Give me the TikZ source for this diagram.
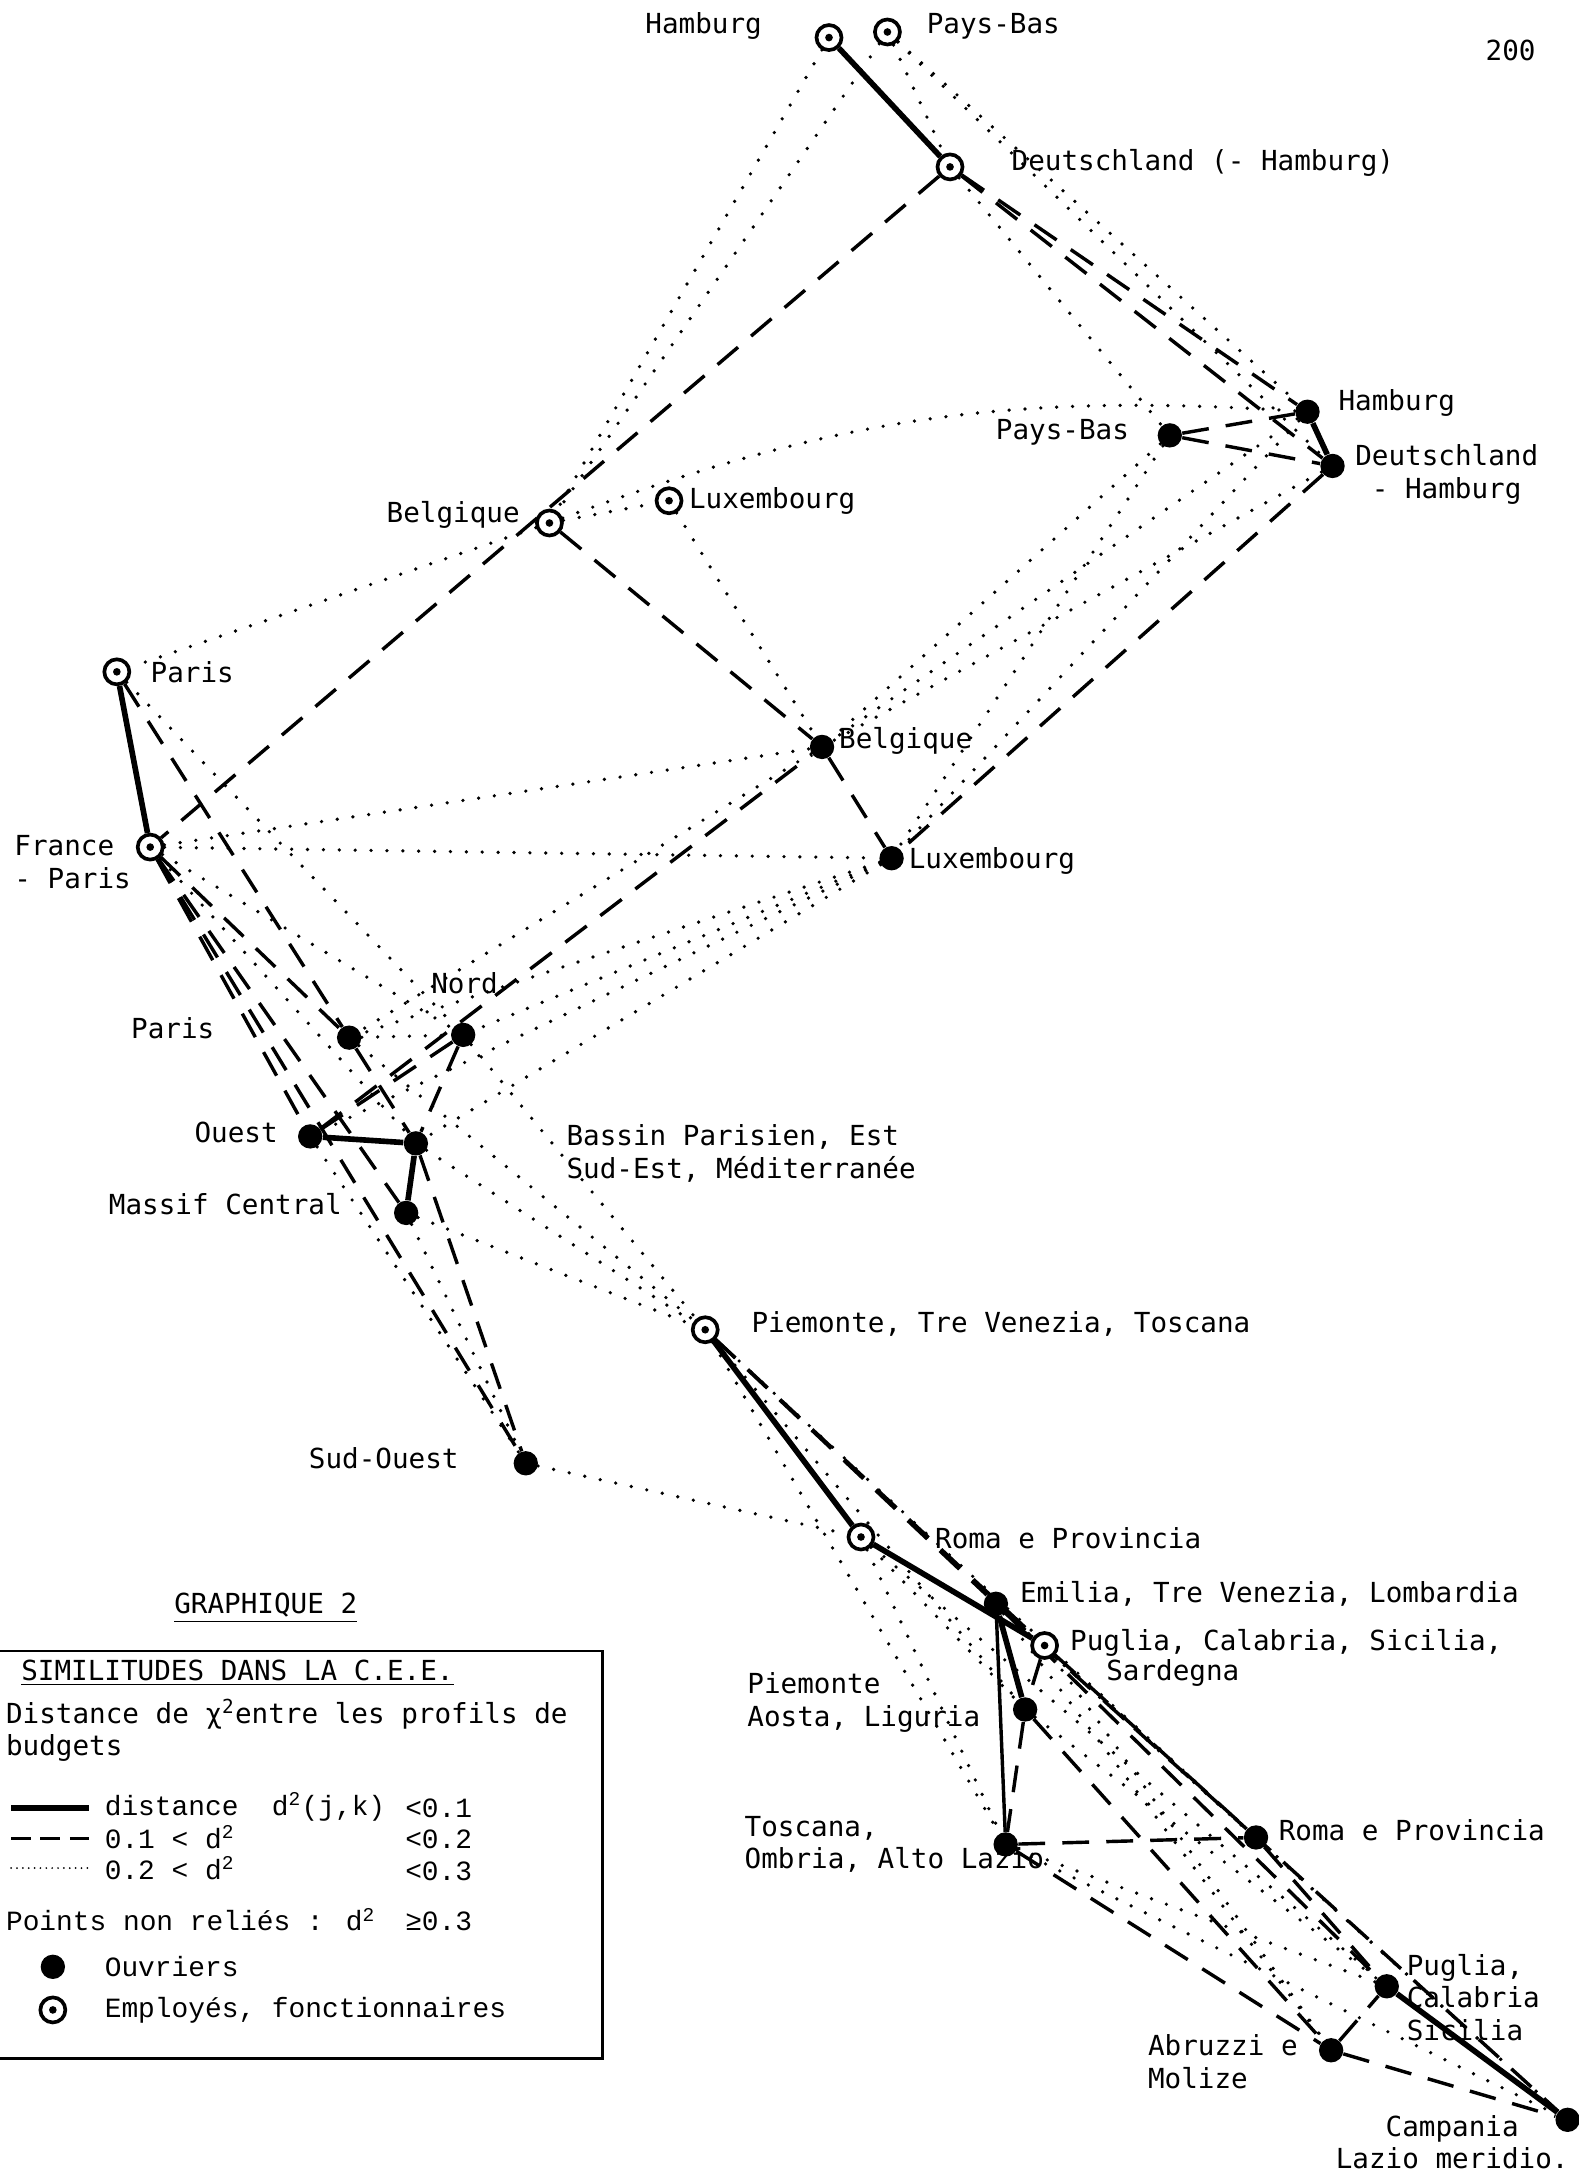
\documentclass[tikz,border=0pt]{standalone}
\usepackage{fontspec}
\newfontfamily\etiq{DejaVu Sans Mono}
\newfontfamily\machine{Liberation Mono}
\usetikzlibrary{backgrounds}

\tikzset{
  ouv/.style={circle,fill=black,inner sep=0pt,minimum size=0.35cm},
  emp/.style={circle,draw=black,line width=1.5pt,fill=white,inner sep=0pt,minimum size=0.36cm,
    path picture={\fill[black] (path picture bounding box.center) circle (0.055cm);}},
  lab/.style={inner sep=0pt,align=left,font=\etiq\fontsize{11.3}{13.4}\selectfont},
  leg/.style={inner sep=0pt,anchor=west,font=\machine\fontsize{11.4}{13.4}\selectfont},
  trait/.style={line width=2.3pt},
  tiret/.style={line width=1.4pt,dash pattern=on 11pt off 7pt},
  point/.style={line width=1.5pt,line cap=round,dash pattern=on 0pt off 6.5pt},
}

\begin{document}
\begin{tikzpicture}[x=0.02cm,y=-0.02cm]
\useasboundingbox(0,0)rectangle(1135,1568);
% employes, fonctionnaires
\node[emp](eHam)at(596,27){};
\node[emp](ePB)at(638,23){};
\node[emp](eDe)at(683,120){};
\node[emp](eBe)at(395,376){};
\node[emp](eLu)at(481,360){};
\node[emp](ePar)at(84,483){};
\node[emp](eFr)at(108,609){};
\node[emp](ePiT)at(507,956){};
\node[emp](eRom)at(619,1105){};
\node[emp](ePug)at(751,1183){};
% ouvriers
\node[ouv](oHam)at(940,296){};
\node[ouv](oPB)at(841,313){};
\node[ouv](oDe)at(958,335){};
\node[ouv](oBe)at(591,537){};
\node[ouv](oLu)at(641,617){};
\node[ouv](oPar)at(251,746){};
\node[ouv](oNord)at(333,744){};
\node[ouv](oOue)at(223,817){};
\node[ouv](oBas)at(299,822){};
\node[ouv](oMas)at(292,872){};
\node[ouv](oSud)at(378,1052){};
\node[ouv](oEmi)at(716,1153){};
\node[ouv](oPie)at(737,1229){};
\node[ouv](oTos)at(723,1326){};
\node[ouv](oRom)at(903,1321){};
\node[ouv](oPug)at(997,1428){};
\node[ouv](oAbr)at(957,1474){};
\node[ouv](oCam)at(1127,1524){};

% labels
\node[lab,anchor=east](teHam)at(548,19){Hamburg};
\node[lab,anchor=west](tePB)at(666,19){Pays-Bas};
\node[lab](tPage)at(1086,36){200};
\node[lab,anchor=west](teDe)at(727,117){Deutschland (- Hamburg)};
\node[lab,anchor=west](toHam)at(962,290){Hamburg};
\node[lab,anchor=east](toPB)at(812,311){Pays-Bas};
\node[lab,anchor=west](toDe)at(974,341){Deutschland\\\hspace{0.6em}- Hamburg};
\node[lab,anchor=east](teBe)at(374,370){Belgique};
\node[lab,anchor=west](teLu)at(495,360){Luxembourg};
\node[lab,anchor=west](tePar)at(108,483){Paris};
\node[lab,anchor=west](teFr)at(10,620){France\\- Paris};
\node[lab,anchor=west](toBe)at(603,533){Belgique};
\node[lab,anchor=west](toLu)at(653,619){Luxembourg};
\node[lab,anchor=west](toPar)at(94,739){Paris};
\node[lab](toNord)at(334,707){Nord};
\node[lab,anchor=east](toOue)at(200,814){Ouest};
\node[lab,anchor=west](toBas)at(407,829){Bassin Parisien, Est\\Sud-Est, Méditerranée};
\node[lab,anchor=east](toMas)at(246,866){Massif Central};
\node[lab,anchor=east](toSud)at(330,1048){Sud-Ouest};
\node[lab,anchor=west](tePiT)at(540,952){Piemonte, Tre Venezia, Toscana};
\node[lab,anchor=west](teRom)at(672,1106){Roma e Provincia};
\node[lab,anchor=west](toEmi)at(733,1146){Emilia, Tre Venezia, Lombardia};
\node[lab,anchor=west](tePug)at(769,1181){Puglia, Calabria, Sicilia,};
\node[lab,anchor=west](tePugb)at(795,1203){Sardegna};
\node[lab,anchor=west](toPie)at(537,1224){Piemonte\\Aosta, Liguria};
\node[lab,anchor=west](toTos)at(535,1326){Toscana,\\Ombria, Alto Lazio};
\node[lab,anchor=west](toRom)at(919,1316){Roma e Provincia};
\node[lab,anchor=west](toPug)at(1011,1436){Puglia,\\Calabria\\Sicilia};
\node[lab,anchor=west](toAbr)at(825,1482){Abruzzi e\\Molize};
\node[lab,align=center](toCam)at(1044,1540){Campania\\Lazio meridio.};

\begin{scope}[on background layer]
\fill[white](0,0)rectangle(1135,1568);
% d2 < 0.1
\draw[trait](eHam)--(eDe);
\draw[trait](ePar)--(eFr);
\draw[trait](oHam)--(oDe);
\draw[trait](oOue)--(oBas);
\draw[trait](oBas)--(oMas);
\draw[trait](ePiT)--(eRom);
\draw[trait](eRom)--(ePug);
\draw[trait](oEmi)--(oPie);
\draw[line width=1.4pt](oEmi)--(oTos);
\draw[trait](oPug)--(oCam);
% 0.1 < d2 < 0.2
\draw[tiret](eDe)--(eFr);
\draw[tiret](eDe)--(oHam);
\draw[tiret](eDe)--(oDe);
\draw[tiret](eBe)--(oBe);
\draw[tiret](oPB)--(oHam);
\draw[tiret](oPB)--(oDe);
\draw[tiret](oDe)--(oLu);
\draw[tiret](oBe)--(oLu);
\draw[tiret](oOue)--(oBe);
\draw[tiret](ePar)--(oPar);
\draw[tiret](eFr)--(oPar);
\draw[tiret](eFr)--(oOue);
\draw[tiret](eFr)--(oMas);
\draw[tiret](eFr)--(oSud);
\draw[tiret](oBas)--(oSud);
\draw[tiret](oPar)--(oBas);
\draw[tiret](oNord)--(oOue);
\draw[tiret](oNord)--(oBas);
\draw[tiret](ePiT)--(oEmi);
\draw[tiret](ePiT)--(ePug);
\draw[tiret](oPie)--(oTos);
\draw[tiret](ePug)--(oPie);
\draw[tiret](oTos)--(oRom);
\draw[tiret](oTos)--(oAbr);
\draw[tiret](oAbr)--(oCam);
\draw[tiret](oAbr)--(oPug);
\draw[tiret](oRom)--(oPug);
\draw[tiret](oEmi)--(oRom);
\draw[tiret](ePug)--(oCam);
\draw[tiret](oEmi)--(oPug);
\draw[tiret](oPie)--(oAbr);
% 0.2 < d2 < 0.3
\draw[point](eHam)--(eBe);
\draw[point](ePB)--(eBe);
\draw[point](ePB)--(eDe);
\draw[point](ePB)--(oHam);
\draw[point](ePB)--(oDe);
\draw[point](eDe)--(oPB);
\draw[point](eBe)--(eLu);
\draw[point](eBe)to[bend left=12](oHam);
\draw[point](eBe)--(ePar);
\draw[point](eLu)--(oBe);
\draw[point](eFr)--(oBe);
\draw[point](eFr)--(oLu);
\draw[point](oPB)--(oBe);
\draw[point](oPB)--(oLu);
\draw[point](oHam)--(oBe);
\draw[point](oDe)--(oBe);
\draw[point](oHam)--(oLu);
\draw[point](oLu)--(oNord);
\draw[point](oLu)--(oBas);
\draw[point](oLu)--(oPar);
\draw[point](oLu)--(oOue);
\draw[point](oBe)--(oPar);
\draw[point](ePar)--(oNord);
\draw[point](eFr)--(oNord);
\draw[point](eFr)--(oBas);
\draw[point](oPar)--(oNord);
\draw[point](oOue)--(oSud);
\draw[point](oMas)--(oSud);
\draw[point](oSud)--(eRom);
\draw[point](oNord)--(ePiT);
\draw[point](oBas)--(ePiT);
\draw[point](oPar)--(ePiT);
\draw[point](oMas)--(ePiT);
\draw[point](ePiT)--(oTos);
\draw[point](ePiT)--(oPie);
\draw[point](ePiT)--(oRom);
\draw[point](eRom)--(oTos);
\draw[point](eRom)--(oPie);
\draw[point](eRom)--(oPug);
\draw[point](oEmi)--(oCam);
\draw[point](oPie)--(oPug);
\draw[point](oTos)--(oPug);
\draw[point](oTos)--(oCam);
\draw[point](oRom)--(oCam);
\draw[point](ePug)--(oAbr);
\draw[point](ePug)--(oRom);
\draw[point](oEmi)--(oAbr);
\end{scope}

% legende
\node[lab,anchor=west](titre)at(125,1156){\underline{GRAPHIQUE 2}};
\draw[line width=1pt](0,1187)--(433,1187)--(433,1480)--(0,1480);
\node[lab,anchor=west](sim)at(15,1203){\underline{SIMILITUDES DANS LA C.E.E.}};
\node[lab,anchor=west](dist)at(4,1244){Distance de χ\textsuperscript{2}entre les profils de\\budgets};
\coordinate(s1a)at(8,1300);\coordinate(s1b)at(64,1300);
\coordinate(s2a)at(8,1322);\coordinate(s2b)at(64,1322);
\coordinate(s3a)at(8,1343);\coordinate(s3b)at(64,1343);
\draw[trait](s1a)--(s1b);
\draw[line width=1.2pt,dash pattern=on 8pt off 4pt](s2a)--(s2b);
\draw[line width=0.8pt,line cap=round,dash pattern=on 0pt off 2.4pt](s3a)--(s3b);
\node[leg](l1)at(75,1299){distance\hspace{1.2em}d\textsuperscript{2}(j,k)};
\node[leg](l2)at(75,1321){0.1 < d\textsuperscript{2}};
\node[leg](l3)at(75,1343){0.2 < d\textsuperscript{2}};
\node[leg](v1)at(291,1300){<0.1};
\node[leg](v2)at(291,1322){<0.2};
\node[leg](v3)at(291,1345){<0.3};
\node[leg](l4)at(4,1380){Points non reliés : d\textsuperscript{2}};
\node[leg](v4)at(291,1381){≥0.3};
\node[ouv](kOuv)at(38,1414){};
\node[leg](l5)at(75,1414){Ouvriers};
\node[emp](kEmp)at(38,1445){};
\node[leg](l6)at(75,1445){Employés, fonctionnaires};
\end{tikzpicture}
\end{document}
